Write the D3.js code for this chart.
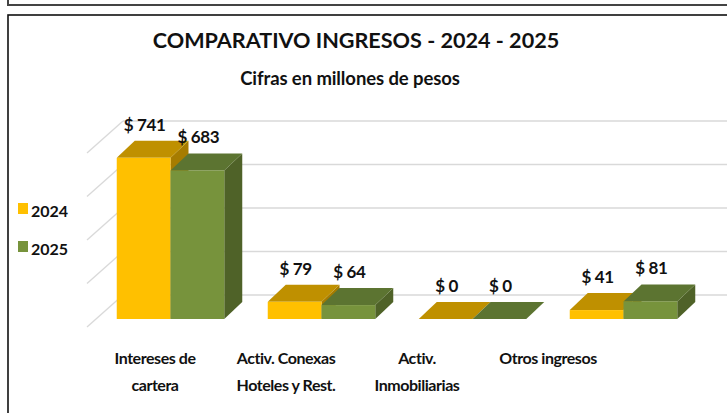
<!DOCTYPE html>
<html lang="es">
<head>
  <meta charset="UTF-8">
  <title>Comparativo ingresos 2024 - 2025</title>
  <style>
    body { margin: 0; background: #fff; }
    svg { display: block; font-family: Lato, "Open Sans", sans-serif; }
  </style>
</head>
<body>
  <svg class="chart"></svg>
  <script src="https://cdn.jsdelivr.net/npm/d3@7"></script>
  <script>
    var categories = ["Intereses de\ncartera", "Activ. Conexas\nHoteles y Rest.", "Activ.\nInmobiliarias", "Otros ingresos"];
    var seriesNames = ["2024", "2025"];
    var values2024 = [741, 79, 0, 41];
    var values2025 = [683, 64, 0, 81];
    var yTicks = [0, 200, 400, 600, 800];

    var width = 727, height = 413;
    var base = 319;             // front baseline of the bars
    var dx = 18, dy = 17;       // bar depth
    var wallDx = 36, wallDy = 32;
    var colors = {
      "2024": { front: "#FFC000", top: "#BF9000", side: "#A67C00" },
      "2025": { front: "#77933C", top: "#5C7431", side: "#4F6228" }
    };

    var svg = d3.select("svg")
      .attr("width", width)
      .attr("height", height);

    // frames
    svg.append("path")
      .attr("d", "M8,0V5H727")
      .attr("fill", "none")
      .attr("stroke", "#444")
      .attr("stroke-width", 2);
    svg.append("rect")
      .attr("x", 8).attr("y", 15)
      .attr("width", 760).attr("height", 420)
      .attr("fill", "none")
      .attr("stroke", "#111")
      .attr("stroke-width", 1.6);

    var x0 = d3.scaleBand()
      .domain(categories)
      .range([95, 699])
      .paddingInner(0.288)
      .paddingOuter(0.144);

    var x1 = d3.scaleBand()
      .domain(seriesNames)
      .range([0, x0.bandwidth()]);

    var y = d3.scaleLinear()
      .domain([0, 800])
      .range([base, base - 174]);

    // back wall scale sits behind the bars
    var yBack = d3.scaleLinear()
      .domain([0, 800])
      .range([base - 24, base - 24 - 174]);

    var wallBackX = 123, wallFrontX = wallBackX - wallDx;

    var grid = svg.append("g")
      .attr("stroke", "#d9d9d9")
      .attr("stroke-width", 1.3);
    grid.selectAll(".back")
      .data(yTicks)
      .enter()
      .append("line")
      .attr("x1", wallBackX).attr("x2", width)
      .attr("y1", d => yBack(d)).attr("y2", d => yBack(d));
    grid.selectAll(".side")
      .data(yTicks)
      .enter()
      .append("line")
      .attr("x1", wallFrontX).attr("x2", wallBackX)
      .attr("y1", d => yBack(d) + wallDy).attr("y2", d => yBack(d));

    var bars = [];
    categories.forEach(function (c, i) {
      bars.push({ cat: c, s: "2024", v: values2024[i] });
      bars.push({ cat: c, s: "2025", v: values2025[i] });
    });

    var w = x1.bandwidth();
    var g = svg.append("g");
    bars.forEach(function (b) {
      var x = x0(b.cat) + x1(b.s);
      var yt = y(b.v);
      var col = colors[b.s];
      var bar = g.append("g");
      bar.append("path")
        .attr("d", `M${x + w},${yt}L${x + w + dx},${yt - dy}L${x + w + dx},${base - dy}L${x + w},${base}Z`)
        .attr("fill", col.side);
      bar.append("path")
        .attr("d", `M${x},${yt}L${x + w},${yt}L${x + w + dx},${yt - dy}L${x + dx},${yt - dy}Z`)
        .attr("fill", col.top);
      bar.append("rect")
        .attr("x", x).attr("y", yt)
        .attr("width", w).attr("height", base - yt)
        .attr("fill", col.front);
    });

    // value labels
    svg.append("g")
      .selectAll("text")
      .data(bars)
      .enter()
      .append("text")
      .attr("x", d => x0(d.cat) + x1(d.s) + w / 2 + 1)
      .attr("y", d => y(d.v) - dy - 10)
      .attr("text-anchor", "middle")
      .attr("font-size", 17)
      .attr("font-weight", 700)
      .attr("letter-spacing", -0.4)
      .attr("fill", "#111")
      .text(d => "$ " + d.v);

    // category labels
    var xLabel = d3.scalePoint()
      .domain(categories)
      .range([155, 548]);

    var cats = svg.append("g")
      .selectAll("text")
      .data(categories)
      .enter()
      .append("text")
      .attr("text-anchor", "middle")
      .attr("font-size", 16)
      .attr("font-weight", 700)
      .attr("letter-spacing", -0.45)
      .attr("fill", "#111");
    cats.selectAll("tspan")
      .data(d => d.split("\n").map(t => ({ t: t, c: d })))
      .enter()
      .append("tspan")
      .attr("x", d => xLabel(d.c))
      .attr("y", (d, i) => 364 + i * 27)
      .text(d => d.t);

    // title
    svg.append("text")
      .attr("x", 356).attr("y", 48)
      .attr("text-anchor", "middle")
      .attr("font-size", 21.6)
      .attr("font-weight", 700)
      .attr("fill", "#111")
      .text("COMPARATIVO INGRESOS - 2024 - 2025");
    svg.append("text")
      .attr("x", 350).attr("y", 85)
      .attr("text-anchor", "middle")
      .attr("font-size", 18.5)
      .attr("font-weight", 700)
      .attr("letter-spacing", -0.1)
      .attr("fill", "#111")
      .text("Cifras en millones de pesos");

    // legend
    var legend = svg.append("g")
      .selectAll("g")
      .data(seriesNames)
      .enter()
      .append("g")
      .attr("transform", (d, i) => `translate(18, ${203 + i * 38})`);
    legend.append("rect")
      .attr("width", 10).attr("height", 11)
      .attr("fill", d => colors[d].front);
    legend.append("text")
      .attr("x", 13).attr("y", 14)
      .attr("font-size", 16)
      .attr("font-weight", 700)
      .attr("fill", "#111")
      .text(d => d);
  </script>
</body>
</html>
